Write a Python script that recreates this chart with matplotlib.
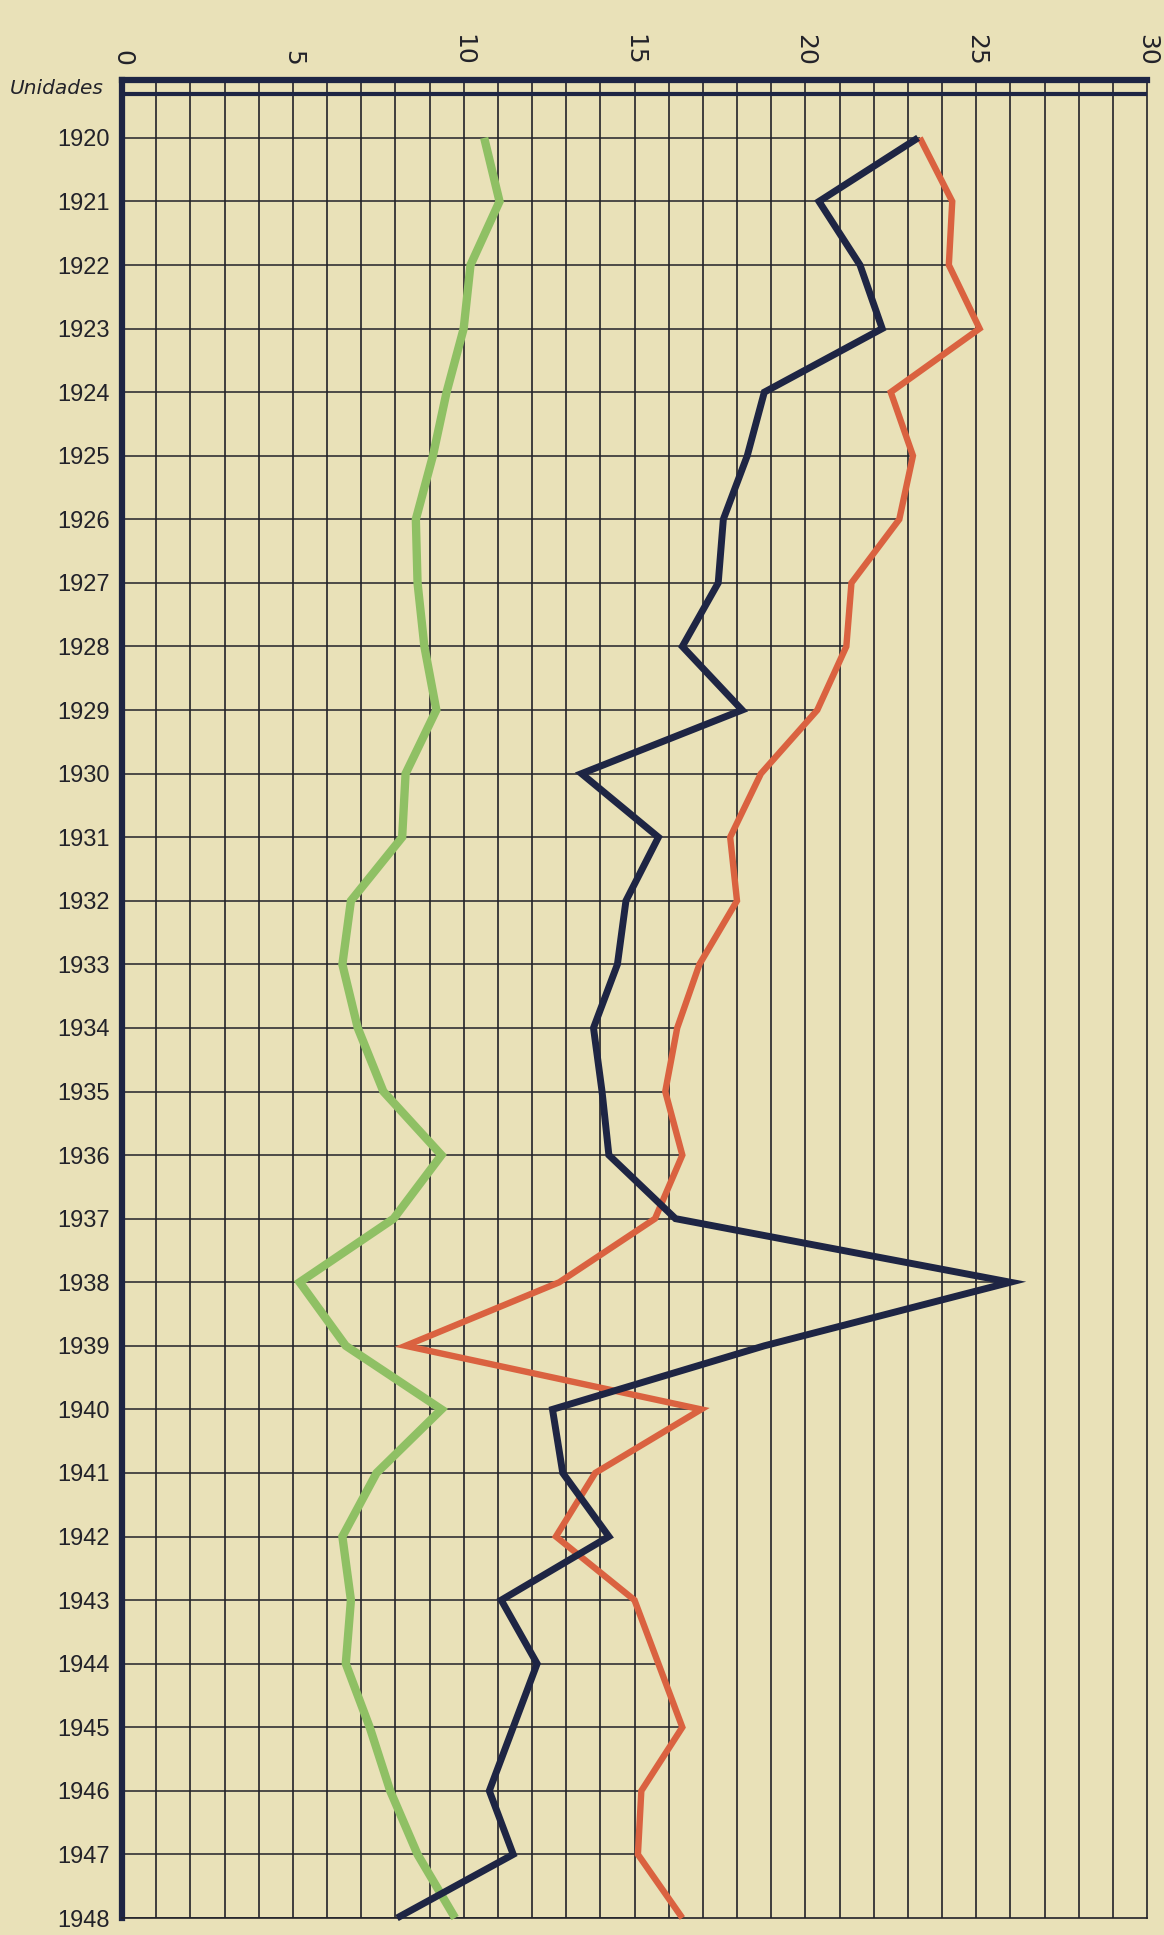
import matplotlib
matplotlib.use("Agg")
import matplotlib.pyplot as plt
import numpy as np

# ---- data ----
years = list(range(1920, 1949))
green_vals = [10.6, 11.05, 10.2, 10.0, 9.5, 9.1, 8.6, 8.65, 8.85, 9.2,
              8.3, 8.2, 6.7, 6.45, 6.9, 7.65, 9.35, 7.95, 5.2, 6.55,
              9.35, 7.45, 6.45, 6.7, 6.55, 7.25, 7.85, 8.65, 9.75]
navy_vals = [23.3, 20.4, 21.6, 22.25, 18.8, 18.3, 17.6, 17.45, 16.4, 18.15,
             13.45, 15.7, 14.75, 14.5, 13.8, 14.05, 14.25, 16.2, 26.0, 18.8,
             12.6, 12.9, 14.25, 11.1, 12.15, 11.45, 10.75, 11.45, 8.05]
red_vals = [23.35, 24.3, 24.2, 25.1, 22.5, 23.15, 22.75, 21.35, 21.2, 20.35,
            18.7, 17.8, 18.0, 16.9, 16.25, 15.9, 16.4, 15.6, 12.8, 8.3,
            16.95, 13.85, 12.7, 15.0, 15.7, 16.4, 15.2, 15.1, 16.4]
x_ticks = [0, 5, 10, 15, 20, 25, 30]
x_ticklabels = ["0", "5", "10", "15", "20", "25", "30"]
unit_label = "Unidades"

# ---- style ----
paper = "#e9e1b8"
ink = "#222229"
navy = "#1e2544"
red = "#da6240"
green = "#8fc064"

W, H = 1164, 1935
fig = plt.figure(figsize=(W / 100, H / 100), dpi=100, facecolor=paper)
left_px, right_px, top_px, bot_px = 122, 1147, 80, 1918
ax = fig.add_axes([left_px / W, (H - bot_px) / H,
                   (right_px - left_px) / W, (bot_px - top_px) / H])
ax.set_facecolor(paper)

ax.set_xlim(0, 30)
ax.set_ylim(1948, 1919.09)

# vertical grid lines (every unit)
for v in range(1, 30):
    ax.axvline(v, color=ink, lw=1.2, zorder=1)

# horizontal grid lines stop at the outermost curve of each year
maxvals = np.max(np.vstack([green_vals, navy_vals, red_vals]), axis=0)
ax.hlines(years, 0, maxvals, color=ink, lw=1.1, zorder=1)

# double line under the top border
ax.axhline(1919.31, color=navy, lw=3.0, zorder=3)

# data lines
ax.plot(green_vals, years, color=green, lw=6.0, solid_joinstyle="miter",
        solid_capstyle="butt", zorder=4, clip_on=False)
ax.plot(red_vals, years, color=red, lw=4.6, solid_joinstyle="miter",
        solid_capstyle="butt", zorder=5, clip_on=False)
ax.plot(navy_vals, years, color=navy, lw=5.0, solid_joinstyle="miter",
        solid_capstyle="butt", zorder=6, clip_on=False)

# spines
for s in ["left", "top"]:
    ax.spines[s].set_color(navy)
    ax.spines[s].set_linewidth(4.5)
for s in ["right", "bottom"]:
    ax.spines[s].set_color(ink)
    ax.spines[s].set_linewidth(1.2)

# ticks
ax.xaxis.tick_top()
ax.set_xticks(x_ticks)
ax.set_xticklabels(x_ticklabels, fontsize=18, color=ink,
                   family=["DejaVu Sans"])
ax.tick_params(axis="x", length=0, pad=10, labelrotation=-90)
for lab in ax.get_xticklabels():
    lab.set_rotation(-90)
    lab.set_va("bottom")
    lab.set_ha("center")

ax.set_yticks(years)
ax.set_yticklabels([str(y) for y in years], fontsize=17, color=ink,
                   family=["Liberation Sans", "DejaVu Sans"])
ax.tick_params(axis="y", length=0, pad=9)

ax.text(-0.55, 1919.22, unit_label, ha="right", va="center", fontsize=14.5,
        style="italic", color=ink, family=["DejaVu Sans"])

fig.savefig("out.png", dpi=100, facecolor=paper)
